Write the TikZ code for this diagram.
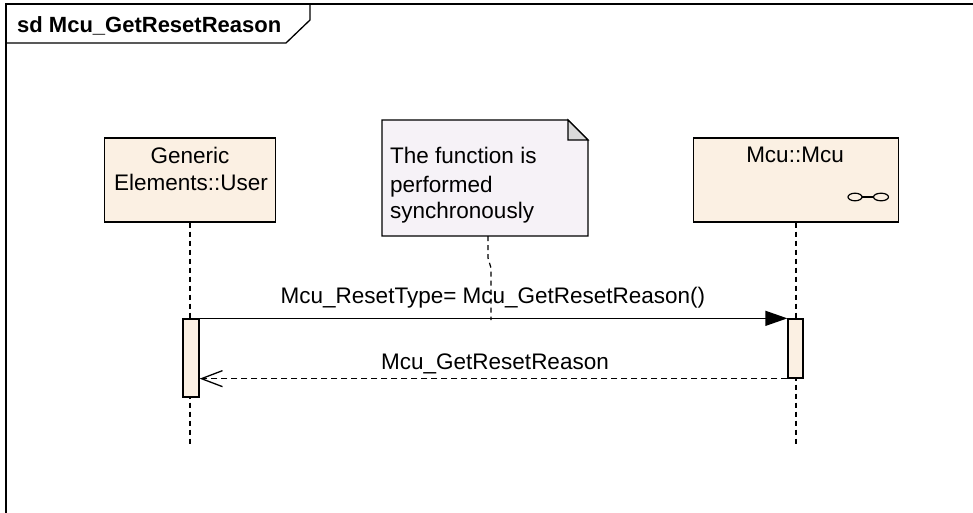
\documentclass[tikz,border=0pt]{standalone}
\usepackage{fontspec}
\setmainfont{Liberation Sans}
\usetikzlibrary{arrows.meta}
\definecolor{boxfill}{RGB}{251,240,227}
\definecolor{notefill}{RGB}{246,242,247}
\definecolor{foldfill}{RGB}{218,218,218}
\tikzset{
  x=1pt, y=-1pt,
  every node/.style={font=\fontsize{22.5}{27}\selectfont},
  frameline/.style={line width=1.3pt},
  lifebox/.style={draw, line width=1.3pt, fill=boxfill, minimum width=171pt, minimum height=84pt, inner sep=0pt},
  actbar/.style={draw, line width=1.3pt, fill=boxfill, minimum width=16pt, inner sep=0pt},
  lifeline/.style={line width=1.2pt, dash pattern=on 5pt off 4pt},
  syncmsg/.style={line width=1.3pt, -{Triangle[length=22pt,width=15pt]}},
  retmsg/.style={line width=1.3pt, dash pattern=on 6pt off 4pt, -{Straight Barb[length=21pt,width=16pt,line width=1.3pt]}},
  txt/.style={inner sep=0pt, anchor=base}
}
\begin{document}
\begin{tikzpicture}
\useasboundingbox (0,0) rectangle (973,513);
% frame and its name tab
\draw[frameline] (6,513) -- (6,4) -- (980,4);
\draw[frameline] (6,43) -- (286,43) -- (310,20) -- (310,4);
\node[txt, anchor=base west, font=\fontsize{22}{27}\selectfont\bfseries] (title) at (17,33) {sd Mcu\_GetResetReason};

% lifeline heads
\node[lifebox] (user) at (190,180) {};
\node[txt] (userA) at (190,164) {Generic};
\node[txt] (userB) at (191,190) {Elements::User};
\node[lifebox, minimum width=205pt] (mcu) at (796,180) {};
\node[txt] (mcuT) at (795,163) {Mcu::Mcu};
% component glyph
\draw[line width=1.2pt] (855,197) ellipse (7pt and 3.8pt);
\draw[line width=1.2pt] (881,197) ellipse (7.5pt and 3.8pt);
\draw[line width=1.2pt] (862,197) -- (873.5,197);

% lifelines
\coordinate (userEnd) at (190,447);
\coordinate (mcuEnd) at (796,447);
\draw[lifeline] (user.south) -- (userEnd);
\draw[lifeline] (mcu.south) -- (mcuEnd);

% activation bars
\node[actbar, minimum height=78pt] (act1) at (191,358) {};
\node[actbar, minimum width=15pt, minimum height=59pt] (act2) at (795.5,348.5) {};

% note
\draw[line width=1.3pt, fill=notefill] (382,120) -- (568,120) -- (588,140) -- (588,236) -- (382,236) -- cycle;
\draw[line width=1.1pt, fill=foldfill] (568,120) -- (588,140) -- (568,140) -- cycle;
\node[txt, anchor=base west] (n1) at (390,164) {The function is};
\node[txt, anchor=base west] (n2) at (390,192) {performed};
\node[txt, anchor=base west] (n3) at (390,218) {synchronously};

% messages
\draw[syncmsg] (act1.north east) -- (act2.north west);
\draw[retmsg] (act2.south west) -- (act2.south west -| act1.east);
\node[txt] (m1) at (493,303) {Mcu\_ResetType= Mcu\_GetResetReason()};
\node[txt] (m2) at (495,369) {Mcu\_GetResetReason};

% note anchor line
\coordinate (attach) at (491,320);
\draw[lifeline] (488,236) -- (488,258) -- (491,268) -- (attach);
\end{tikzpicture}
\end{document}
